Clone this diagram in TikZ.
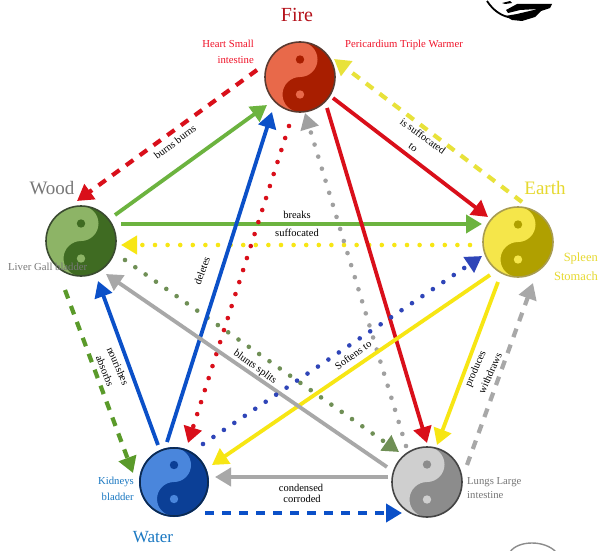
\documentclass[tikz,border=0pt]{standalone}
\usepackage{fontspec}
\setmainfont{Liberation Serif}
\usetikzlibrary{arrows.meta}
\definecolor{cgreen}{HTML}{6CB33F}
\definecolor{cgreendk}{HTML}{5A9A2A}
\definecolor{cgreendot}{HTML}{6F8F55}
\definecolor{cred}{HTML}{D90F1A}
\definecolor{credtx}{HTML}{F0142A}
\definecolor{cfire}{HTML}{B5121B}
\definecolor{cyel}{HTML}{F7E614}
\definecolor{cyeldash}{HTML}{E8E23A}
\definecolor{cyeltx}{HTML}{E6D92F}
\definecolor{cblue}{HTML}{0B50C8}
\definecolor{cbluedot}{HTML}{2F45B8}
\definecolor{cbluetx}{HTML}{1A78C2}
\definecolor{cgray}{HTML}{A8A8A8}
\definecolor{cgraydot}{HTML}{A0A0A0}
\definecolor{cgraytx}{HTML}{777777}
\tikzset{
  arrowbase/.style={-{Triangle[length=16pt,width=18pt]}},
  solidarrow/.style={arrowbase,line width=3.8pt,draw=#1,#1},
  dashedarrow/.style={arrowbase,line width=4.2pt,dash pattern=on 9pt off 8pt,draw=#1,#1},
  dottedarrow/.style={arrowbase,line width=4.6pt,line cap=round,dash pattern=on 0pt off 12.6pt,draw=#1,#1},
  yynode/.style={circle,inner sep=0pt,outer sep=0pt,minimum size=70pt},
  midlabel/.style={inner sep=0pt,font=\fontsize{10.5}{12}\selectfont,text=black},
  titlelabel/.style={inner sep=0pt,font=\fontsize{19}{22}\selectfont},
  sidelabel/.style={inner sep=0pt,font=\fontsize{10.7}{12}\selectfont},
}
\newcommand\conn[5]{\draw[#1] ([shift={(#3)}]#2.center) -- ([shift={(#5)}]#4.center);}
\newcommand\yinyang[6]{%
  \definecolor{yl#1}{HTML}{#4}\definecolor{yd#1}{HTML}{#5}\definecolor{yb#1}{HTML}{#6}%
  \node[yynode,fill=yd#1] (#1) at (#2) {};
  \begin{scope}[shift={(#2)}]
    \fill[yl#1] (0,-#3) arc[start angle=270,end angle=90,radius=#3]
      arc[start angle=90,end angle=270,radius=#3/2]
      arc[start angle=90,end angle=-90,radius=#3/2];
    \fill[yd#1] (0,-#3/2) circle[radius=4.2];
    \fill[yl#1] (0,#3/2) circle[radius=4.2];
    \draw[yb#1,line width=1.6pt] (0,0) circle[radius=#3];
  \end{scope}}
\begin{document}
\begin{tikzpicture}[x=1pt,y=-1pt]
\useasboundingbox (0,0) rectangle (610,551);
\fill[white] (0,0) rectangle (610,551);
% partial figures at the picture's edges
\begin{scope}
  \clip (0,0) rectangle (610,551);
  \draw[black,line width=1.8pt] (487,1) .. controls (493,10) and (500,15) .. (508,17);
  \fill[black] (517,4) -- (552,4) -- (550,8) -- (541,11) -- (535,17) -- (522,21) -- (512,20) -- (505,16) -- (517,14) -- (538,9) -- (520,10) -- (508,13) -- (506,10) -- cycle;
  \fill[black] (502,3) -- (510,1) -- (512,3) -- (505,4) -- cycle;
  \draw[black!45,line width=1.4pt] (510,552) .. controls (518,540) and (545,540) .. (556,552);
\end{scope}
% yin-yang circles
\yinyang{fire}{300,77}{35}{E8694A}{A81E00}{5A3A30}
\yinyang{wood}{81,241}{35}{8DB466}{3F6B22}{3A4A30}
\yinyang{earth}{518,242}{35}{F5E64A}{B0A000}{A89C50}
\yinyang{water}{174,482}{34}{4A86DC}{0B3F96}{0C2A50}
\yinyang{metal}{427,482}{35}{CFCFCF}{8C8C8C}{444444}
% connectors
\conn{dashedarrow=cred}{fire}{-43,-7}{wood}{-4,-40}
\conn{solidarrow=cgreen}{wood}{34,-26}{fire}{-33,28}
\conn{solidarrow=cgreen}{wood}{40,-17}{earth}{-36,-18}
\conn{dottedarrow=cyel}{earth}{-48,3}{wood}{40,4}
\conn{dottedarrow=cgreendot}{wood}{44,19}{metal}{-28,-30}
\conn{solidarrow=cblue}{water}{-16,-37}{wood}{17,40}
\conn{solidarrow=cblue}{water}{-7,-40}{fire}{-28,35}
\conn{dashedarrow=cgreendk}{wood}{-16,49}{water}{-41,-9}
\conn{dottedarrow=cred}{fire}{-11,49}{water}{14,-39}
\conn{dottedarrow=cgraydot}{metal}{-21,-36}{fire}{5,36}
\conn{solidarrow=cred}{fire}{27,31}{metal}{0,-39}
\conn{solidarrow=cred}{fire}{33,21}{earth}{-30,-25}
\conn{dashedarrow=cyeldash}{earth}{4,-40}{fire}{34,-18}
\conn{solidarrow=cyel}{earth}{-20,40}{metal}{10,-37}
\conn{solidarrow=cyel}{earth}{-28,33}{water}{38,-17}
\conn{dashedarrow=cgray}{metal}{40,-17}{earth}{15,41}
\conn{solidarrow=cgray}{metal}{-40,-15}{wood}{25,33}
\conn{solidarrow=cgray}{metal}{-39,-5}{water}{41,-5}
\conn{dashedarrow=cblue}{water}{31,31}{metal}{-25,31}
\conn{dottedarrow=cbluedot}{water}{29,-38}{earth}{-36,14}
% titles
\node[titlelabel,text=cfire,font=\fontsize{20}{22}\selectfont] (tfire) at (297,15) {Fire};
\node[titlelabel,text=cgraytx] (twood) at (52,188) {Wood};
\node[titlelabel,text=cyeltx] (tearth) at (545,188) {Earth};
\node[titlelabel,text=cbluetx,font=\fontsize{17}{20}\selectfont] (twater) at (153,537) {Water};
% organ labels
\node[sidelabel,text=credtx,anchor=east] (s1) at (254,44) {Heart Small};
\node[sidelabel,text=credtx,anchor=east] (s2) at (254,60) {intestine};
\node[sidelabel,text=credtx,anchor=west] (s3) at (345,45) {Pericardium Triple Warmer};
\node[sidelabel,text=cgraytx,anchor=west] (s4) at (8,267) {Liver Gall bladder};
\node[sidelabel,text=cbluetx,anchor=east] (s5) at (134,482) {Kidneys};
\node[sidelabel,text=cbluetx,anchor=east] (s6) at (134,497) {bladder};
\node[sidelabel,text=cgraytx,anchor=west] (s7) at (467,482) {Lungs Large};
\node[sidelabel,text=cgraytx,anchor=west] (s8) at (467,495) {intestine};
\node[sidelabel,text=cyeltx,anchor=east,font=\fontsize{12.5}{14}\selectfont] (s9) at (598,258) {Spleen};
\node[sidelabel,text=cyeltx,anchor=east,font=\fontsize{12.5}{14}\selectfont] (s10) at (598,276) {Stomach};
% connector labels
\node[midlabel,rotate=37] (m1) at (175,142) {burns burns};
\node[midlabel,rotate=-36] (m2) at (423,136) {is suffocated};
\node[midlabel,rotate=-36] (m3) at (413,148) {to};
\node[midlabel] (m4) at (297,215) {breaks};
\node[midlabel] (m5) at (297,233) {suffocated};
\node[midlabel,rotate=70] (m6) at (202,271) {deletes};
\node[midlabel,rotate=-66] (m7) at (118,366) {nourishes};
\node[midlabel,rotate=-68] (m8) at (105,371) {absorbs};
\node[midlabel,rotate=-36] (m9) at (255,367) {blunts splits};
\node[midlabel,rotate=36] (m10) at (353,355) {Softens to};
\node[midlabel,rotate=66] (m11) at (476,369) {produces};
\node[midlabel,rotate=66] (m12) at (490,373) {withdraws};
\node[midlabel] (m13) at (301,488) {condensed};
\node[midlabel] (m14) at (302,499) {corroded};
\end{tikzpicture}
\end{document}
